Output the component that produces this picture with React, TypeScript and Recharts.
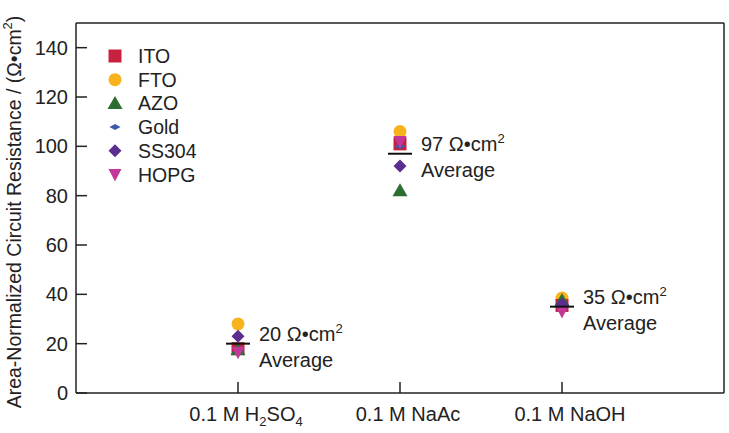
import { ScatterChart, Scatter, XAxis, YAxis, Legend } from "recharts";

const categories = ["0.1 M H2SO4", "0.1 M NaAc", "0.1 M NaOH"];
const ito = [18, 101, 35.5];
const fto = [28, 106, 38.5];
const azo = [17.5, 82, 37.5];
const gold = [17, 100, 34.5];
const ss304 = [23, 92, 36];
const hopg = [16.5, 102, 33];
const averages = [20, 97, 35];
const averageLabels = ["20", "97", "35"];
const yTicks = [0, 20, 40, 60, 80, 100, 120, 140];

const FONT = "'Liberation Sans', Arial, Helvetica, sans-serif";

type Kind = "square" | "circle" | "triangle" | "flatDiamond" | "diamond" | "triangleDown";

type seriesInfo = {
  name: string;
  values: number[];
  color: string;
  kind: Kind;
};

const seriesList: seriesInfo[] = [
  { name: "ITO", values: ito, color: "#C8203F", kind: "square" },
  { name: "FTO", values: fto, color: "#F8B31C", kind: "circle" },
  { name: "AZO", values: azo, color: "#2C6E32", kind: "triangle" },
  { name: "Gold", values: gold, color: "#3C58A6", kind: "flatDiamond" },
  { name: "SS304", values: ss304, color: "#5A2D8F", kind: "diamond" },
  { name: "HOPG", values: hopg, color: "#C2379A", kind: "triangleDown" },
];

// FTO sits under ITO in the picture
const drawOrder = ["FTO", "ITO", "AZO", "Gold", "SS304", "HOPG"];

function Marker({ kind, cx, cy, color }: { kind: Kind; cx: number; cy: number; color: string }) {
  switch (kind) {
    case "square":
      return <rect x={cx - 6.5} y={cy - 6.5} width={13} height={13} fill={color} />;
    case "circle":
      return <circle cx={cx} cy={cy} r={6.5} fill={color} />;
    case "triangle":
      return <path d={`M${cx},${cy - 7.5} L${cx + 7.5},${cy + 5.5} L${cx - 7.5},${cy + 5.5} Z`} fill={color} />;
    case "flatDiamond":
      return <path d={`M${cx - 5.5},${cy} L${cx},${cy - 3} L${cx + 5.5},${cy} L${cx},${cy + 3} Z`} fill={color} />;
    case "diamond":
      return <path d={`M${cx},${cy - 6.5} L${cx + 6.5},${cy} L${cx},${cy + 6.5} L${cx - 6.5},${cy} Z`} fill={color} />;
    case "triangleDown":
      return <path d={`M${cx - 6.5},${cy - 5.5} L${cx + 6.5},${cy - 5.5} L${cx},${cy + 7} Z`} fill={color} />;
  }
  return null;
}

function toPoints(values: number[]) {
  return values.map((v, i) => ({ x: i + 1, y: v }));
}

const averageData = averages.map((v, i) => ({ x: i + 1, y: v, label: averageLabels[i] }));

function withSubscripts(text: string) {
  const parts = text.split(/(?<=[A-Z])(\d)/);
  return parts.map((p, i) =>
    /^\d$/.test(p) && i % 2 === 1 ? (
      <tspan key={i} fontSize={13} dy={5}>
        {p}
      </tspan>
    ) : (
      <tspan key={i} dy={i > 0 && /^\d$/.test(parts[i - 1]) ? -5 : 0}>
        {p}
      </tspan>
    )
  );
}

const BottomTick = (props: any) => {
  const { x, y, payload } = props;
  return (
    <g>
      <line x1={x} x2={x} y1={y} y2={y - 11} stroke="#222" strokeWidth={1.5} />
      <text x={x + 8} y={y + 28} textAnchor="middle" fontSize={20} fontFamily={FONT} fill="#222">
        {withSubscripts(categories[payload.value - 1])}
      </text>
    </g>
  );
};

const TopTick = (props: any) => {
  const { x, y } = props;
  return <line x1={x} x2={x} y1={y} y2={y + 11} stroke="#222" strokeWidth={1.5} />;
};

const LeftTick = (props: any) => {
  const { x, y, payload } = props;
  return (
    <g>
      <line x1={x} x2={x + 11} y1={y} y2={y} stroke="#222" strokeWidth={1.5} />
      <text x={x - 8} y={y} dy={7} textAnchor="end" fontSize={20} fontFamily={FONT} fill="#222">
        {payload.value}
      </text>
    </g>
  );
};

const RightTick = (props: any) => {
  const { x, y } = props;
  return <line x1={x} x2={x - 11} y1={y} y2={y} stroke="#222" strokeWidth={1.5} />;
};

const YTitle = () => (
  <text
    x={14}
    y={212}
    transform="rotate(-90 14 212)"
    textAnchor="middle"
    dominantBaseline="central"
    fontSize={19.5}
    fontFamily={FONT}
    fill="#222"
  >
    Area-Normalized Circuit Resistance / (Ω•cm
    <tspan fontSize={13} dy={-7}>
      2
    </tspan>
    <tspan dy={7}>)</tspan>
  </text>
);

const AverageShape = (props: any) => {
  const { cx, cy, payload } = props;
  return (
    <g>
      <line x1={cx - 12} x2={cx + 12} y1={cy} y2={cy} stroke="#111" strokeWidth={2} />
      <text x={cx + 21} y={cy - 10} dy={7} fontSize={20} fontFamily={FONT} fill="#222">
        {payload.label} Ω•cm
        <tspan fontSize={13} dy={-8}>
          2
        </tspan>
      </text>
      <text x={cx + 21} y={cy + 16} dy={7} fontSize={20} fontFamily={FONT} fill="#222">
        Average
      </text>
    </g>
  );
};

const LegendBox = () => (
  <svg width={120} height={145} style={{ overflow: "visible" }}>
    {seriesList.map((s, i) => (
      <g key={s.name}>
        <Marker kind={s.kind} cx={15} cy={12 + i * 23.7} color={s.color} />
        <text x={38} y={12 + i * 23.7} dy={7} fontSize={19.5} fontFamily={FONT} fill="#222">
          {s.name}
        </text>
      </g>
    ))}
  </svg>
);

export default function App() {
  return (
    <div style={{ position: "absolute", left: 0, top: 0, background: "#fff" }}>
      <ScatterChart width={729} height={433} margin={{ top: 22, right: 4, bottom: 39, left: 75 }}>
        <XAxis
          xAxisId="bottom"
          type="number"
          dataKey="x"
          domain={[0, 4]}
          ticks={[1, 2, 3]}
          height={1}
          tickSize={0}
          tickMargin={0}
          tickLine={false}
          tick={<BottomTick />}
          axisLine={{ stroke: "#222", strokeWidth: 1.5 }}
        />
        <XAxis
          xAxisId="top"
          orientation="top"
          type="number"
          dataKey="x"
          domain={[0, 4]}
          ticks={[1, 2, 3]}
          height={1}
          tickSize={0}
          tickMargin={0}
          tickLine={false}
          tick={<TopTick />}
          axisLine={{ stroke: "#222", strokeWidth: 1.5 }}
        />
        <YAxis
          yAxisId="left"
          type="number"
          dataKey="y"
          domain={[0, 150]}
          ticks={yTicks}
          width={1}
          tickSize={0}
          tickMargin={0}
          tickLine={false}
          tick={<LeftTick />}
          axisLine={{ stroke: "#222", strokeWidth: 1.5 }}
          label={<YTitle />}
        />
        <YAxis
          yAxisId="right"
          orientation="right"
          type="number"
          dataKey="y"
          domain={[0, 150]}
          ticks={yTicks}
          width={1}
          tickSize={0}
          tickMargin={0}
          tickLine={false}
          tick={<RightTick />}
          axisLine={{ stroke: "#222", strokeWidth: 1.5 }}
        />
        <Legend
          layout="vertical"
          align="center"
          verticalAlign="middle"
          wrapperStyle={{ top: 44, left: 100, width: 120 }}
          content={() => <LegendBox />}
        />
        {drawOrder.map((name) => {
          const s = seriesList.find((d) => d.name === name)!;
          return (
            <Scatter
              key={s.name}
              name={s.name}
              xAxisId="bottom"
              yAxisId="left"
              data={toPoints(s.values)}
              fill={s.color}
              isAnimationActive={false}
              shape={(p: any) => <Marker kind={s.kind} cx={p.cx} cy={p.cy} color={s.color} />}
            />
          );
        })}
        <Scatter
          name="Average"
          xAxisId="bottom"
          yAxisId="left"
          data={averageData}
          isAnimationActive={false}
          shape={<AverageShape />}
          legendType="none"
        />
      </ScatterChart>
    </div>
  );
}
